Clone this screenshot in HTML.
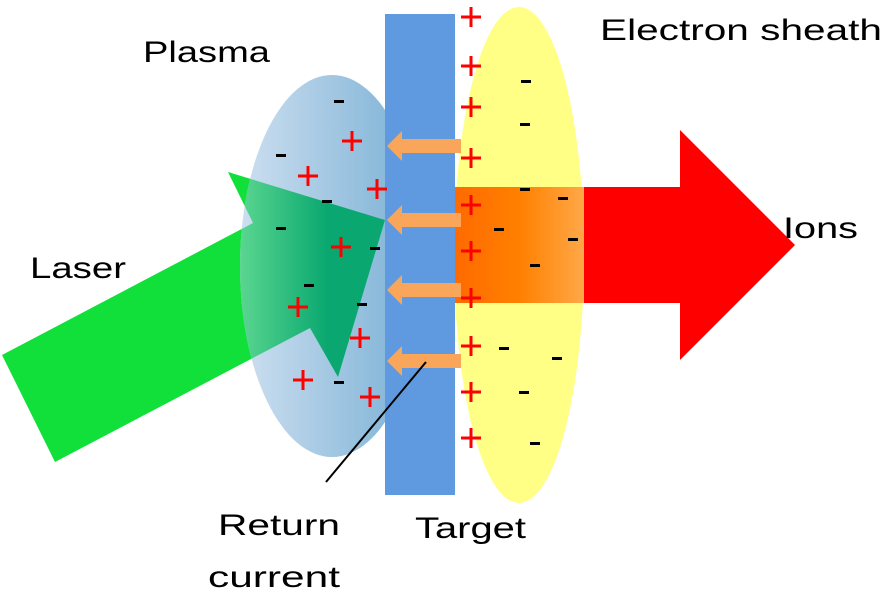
<!DOCTYPE html>
<html><head><meta charset="utf-8"><style>html,body{margin:0;padding:0;background:#fff}svg{display:block}</style></head>
<body>
<svg width="886" height="594" viewBox="0 0 886 594" xmlns="http://www.w3.org/2000/svg" font-family="Liberation Sans, sans-serif">
<defs>
<linearGradient id="pl" x1="0" x2="1" y1="0" y2="0">
<stop offset="0" stop-color="#cddff0"/>
<stop offset="1" stop-color="#78afd4"/>
</linearGradient>
<linearGradient id="tl" gradientUnits="userSpaceOnUse" x1="240" x2="385" y1="0" y2="0">
<stop offset="0" stop-color="#5ad690"/>
<stop offset="0.6" stop-color="#0aa870"/>
<stop offset="1" stop-color="#0aa870"/>
</linearGradient>
<linearGradient id="or" x1="0" x2="1">
<stop offset="0" stop-color="#ff6a00"/>
<stop offset="0.5" stop-color="#ff8000"/>
<stop offset="1" stop-color="#ffa848"/>
</linearGradient>
<clipPath id="ce"><ellipse cx="332" cy="266" rx="92" ry="191"/></clipPath>
<path id="p" d="M-10,0H10M0,-10V10" stroke="#ff0000" stroke-width="3" fill="none"/>
</defs>
<polygon points="2,355 253,223 228,172 385,220 338,377 310,328 55,462" fill="#11e03a"/>
<ellipse cx="332" cy="266" rx="92" ry="191" fill="url(#pl)"/>
<polygon clip-path="url(#ce)" points="2,355 253,223 228,172 385,220 338,377 310,328 55,462" fill="url(#tl)"/>
<polygon points="455,187 680,187 680,130 795,245 680,360 680,303 455,303" fill="#ff0000"/>
<ellipse cx="519" cy="255" rx="65" ry="248" fill="#ffff85"/>
<rect x="455" y="187" width="129" height="116" fill="url(#or)"/>
<rect x="385" y="14" width="70" height="481" fill="#5f9ae0"/>
<g fill="#f9a55a">
<polygon points="387,146 402,131 402,139 461,139 461,153 402,153 402,161"/>
<polygon points="387,220 402,205 402,213 461,213 461,227 402,227 402,235"/>
<polygon points="387,290 402,275 402,283 461,283 461,297 402,297 402,305"/>
<polygon points="387,361 402,346 402,354 461,354 461,368 402,368 402,376"/>
</g>
<line x1="426" y1="362" x2="326" y2="482" stroke="#000" stroke-width="2"/>
<g>
<use href="#p" x="352" y="141"/><use href="#p" x="308" y="176"/><use href="#p" x="377" y="189"/><use href="#p" x="341" y="247"/><use href="#p" x="298" y="307"/><use href="#p" x="360" y="338"/><use href="#p" x="303" y="380"/><use href="#p" x="370" y="397"/>
<use href="#p" x="471" y="17"/><use href="#p" x="471" y="66"/><use href="#p" x="471" y="107"/><use href="#p" x="471" y="158"/><use href="#p" x="471" y="205"/><use href="#p" x="471" y="251"/><use href="#p" x="471" y="298"/><use href="#p" x="471" y="346"/><use href="#p" x="471" y="392"/><use href="#p" x="471" y="438"/>
</g>
<g fill="#000">
<rect x="334" y="100" width="10" height="3"/><rect x="276" y="154" width="10" height="3"/><rect x="322" y="200" width="10" height="3"/><rect x="276" y="227" width="10" height="3"/><rect x="370" y="247" width="10" height="3"/><rect x="304" y="284" width="10" height="3"/><rect x="357" y="303" width="10" height="3"/><rect x="334" y="381" width="10" height="3"/>
<rect x="521" y="80" width="10" height="3"/><rect x="520" y="123" width="10" height="3"/><rect x="520" y="188" width="10" height="3"/><rect x="558" y="197" width="10" height="3"/><rect x="494" y="228" width="10" height="3"/><rect x="568" y="238" width="10" height="3"/><rect x="530" y="264" width="10" height="3"/><rect x="499" y="347" width="10" height="3"/><rect x="552" y="357" width="10" height="3"/><rect x="519" y="391" width="10" height="3"/><rect x="530" y="442" width="10" height="3"/>
</g>
<g fill="#000" font-size="30">
<text x="143" y="62" textLength="127" lengthAdjust="spacingAndGlyphs">Plasma</text>
<text x="600" y="40" textLength="282" lengthAdjust="spacingAndGlyphs">Electron sheath</text>
<text x="783" y="238" textLength="75" lengthAdjust="spacingAndGlyphs">Ions</text>
<text x="30" y="278" textLength="96" lengthAdjust="spacingAndGlyphs">Laser</text>
<text x="415" y="538" textLength="111" lengthAdjust="spacingAndGlyphs">Target</text>
<text x="218" y="535" textLength="122" lengthAdjust="spacingAndGlyphs">Return</text>
<text x="208" y="587" textLength="132" lengthAdjust="spacingAndGlyphs">current</text>
</g>
</svg>
</body></html>
